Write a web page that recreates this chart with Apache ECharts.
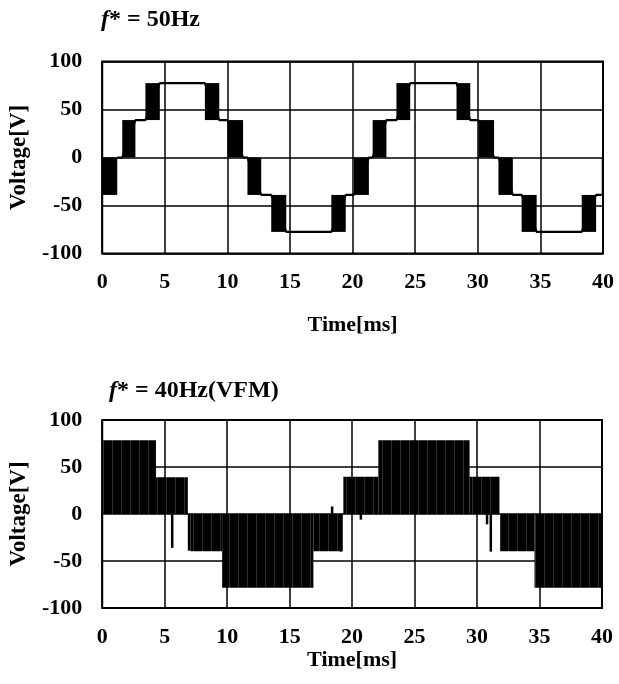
<!DOCTYPE html>
<html>
<head>
<meta charset="utf-8">
<script src="https://cdn.jsdelivr.net/npm/echarts@6/dist/echarts.min.js"></script>
<style>
  html, body { margin: 0; padding: 0; background: #fff; }
  #chart { width: 619px; height: 684px; }
</style>
</head>
<body>
<div id="chart"></div>
<script>
// f* = 50Hz : PWM blocks [tStart, tEnd, low, high] and flat levels [tStart, tEnd, value]
const top50Blocks = [
  [0, 1.2, -39, 0], [1.6, 2.65, 0, 39], [3.45, 4.6, 39, 77.5], [8.2, 9.35, 39, 77.5],
  [10.0, 11.25, 0, 39], [11.6, 12.7, -39, 0], [13.5, 14.7, -77.5, -39], [18.3, 19.45, -77.5, -39],
  [20.1, 21.3, -39, 0], [21.6, 22.7, 0, 39], [23.5, 24.6, 39, 77.5], [28.3, 29.4, 39, 77.5],
  [30.05, 31.3, 0, 39], [31.65, 32.8, -39, 0], [33.5, 34.7, -77.5, -39], [38.3, 39.45, -77.5, -39],
  [39.9, 40, -39, 0]
]
const top50Levels = [
  [1.2, 1.6, 0], [2.65, 3.45, 39], [4.6, 8.2, 77.5], [9.35, 10.0, 39], [11.25, 11.6, 0],
  [12.7, 13.5, -39], [14.7, 18.3, -77.5], [19.45, 20.1, -39], [21.3, 21.6, 0], [22.7, 23.5, 39],
  [24.6, 28.3, 77.5], [29.4, 30.05, 39], [31.3, 31.65, 0], [32.8, 33.5, -39], [34.7, 38.3, -77.5],
  [39.45, 39.9, -39]
]
// f* = 40Hz(VFM) : switching blocks and isolated pulses [t, value]
const bot40Blocks = [
  [0, 4.3, 0, 78.5], [4.3, 6.85, 0, 39], [7.05, 9.6, -39.5, 0], [9.6, 16.9, -78.5, 0],
  [16.9, 19.25, -39.5, 0], [19.3, 22.1, 0, 39.5], [22.1, 29.4, 0, 78.5], [29.4, 31.8, 0, 39.5],
  [31.85, 34.6, -39.5, 0], [34.6, 40, -78.5, 0]
]
const bot40Spikes = [
  [5.6, -36], [6.95, -39], [18.4, 8], [19.1, -40], [20.7, -6], [30.8, -11], [31.1, -40]
]
const yTicks = { min: -100, max: 100, step: 50 }
const xTicks = { min: 0, max: 40, step: 5 }

const FONT = '"Liberation Serif", "Times New Roman", serif'
const chart = echarts.init(document.getElementById('chart'))

// faint vertical streaks, like the switching pulses of the VFM trace
const streak = document.createElement('canvas')
streak.width = 9
streak.height = 4
const sctx = streak.getContext('2d')
sctx.fillStyle = '#000'
sctx.fillRect(0, 0, 9, 4)
sctx.fillStyle = '#2e2e2e'
sctx.fillRect(4, 0, 1, 4)

function blockItem(fill) {
  return function(params, api) {
    const p0 = api.coord([api.value(0), api.value(3)])
    const p1 = api.coord([api.value(1), api.value(2)])
    return {
      type: 'rect',
      shape: { x: p0[0], y: p0[1], width: p1[0] - p0[0], height: p1[1] - p0[1] },
      style: { fill }
    }
  }
}
function spikeItem(params, api) {
  const a = api.coord([api.value(0), 0])
  const b = api.coord([api.value(0), api.value(1)])
  return {
    type: 'line',
    shape: { x1: a[0], y1: a[1], x2: b[0], y2: b[1] },
    style: { stroke: '#000', lineWidth: 2.5 }
  }
}

function xAxis(gridIndex, nameGap) {
  return {
    type: 'value', gridIndex, min: xTicks.min, max: xTicks.max, interval: xTicks.step,
    name: 'Time[ms]', nameLocation: 'middle', nameGap,
    nameTextStyle: { fontFamily: FONT, fontWeight: 'bold', fontSize: 22, color: '#000' },
    axisLine: { show: false }, axisTick: { show: false },
    axisLabel: { fontFamily: FONT, fontWeight: 'bold', fontSize: 22, color: '#000', margin: 18 },
    splitLine: { show: true, lineStyle: { color: '#000', width: 1.5 } }
  }
}
function yAxis(gridIndex) {
  return {
    type: 'value', gridIndex, min: yTicks.min, max: yTicks.max, interval: yTicks.step,
    name: 'Voltage[V]', nameLocation: 'middle', nameGap: 70,
    nameTextStyle: { fontFamily: FONT, fontWeight: 'bold', fontSize: 23, color: '#000' },
    axisLine: { show: false }, axisTick: { show: false },
    axisLabel: { fontFamily: FONT, fontWeight: 'bold', fontSize: 22, color: '#000', margin: 20 },
    splitLine: { show: true, lineStyle: { color: '#000', width: 1.5 } }
  }
}
const titleRich = {
  i: { fontFamily: FONT, fontStyle: 'italic', fontWeight: 'bold', fontSize: 24, color: '#000' },
  b: { fontFamily: FONT, fontWeight: 'bold', fontSize: 24, color: '#000' }
}

chart.setOption({
  animation: false,
  title: [
    { text: '{i|f}{b|* = 50Hz}', left: 96, top: 3, textStyle: { rich: titleRich } },
    { text: '{i|f}{b|* = 40Hz(VFM)}', left: 104, top: 374, textStyle: { rich: titleRich } }
  ],
  grid: [
    { left: 101, right: 16, top: 61.5, height: 192, show: true, borderColor: '#000', borderWidth: 2 },
    { left: 101, right: 17, top: 420, height: 188, show: true, borderColor: '#000', borderWidth: 2 }
  ],
  xAxis: [xAxis(0, 61), xAxis(1, 33)],
  yAxis: [yAxis(0), yAxis(1)],
  series: [
    {
      type: 'custom', xAxisIndex: 0, yAxisIndex: 0, renderItem: blockItem('#000'),
      encode: { x: [0, 1], y: [2, 3] }, data: top50Blocks, z: 3
    },
    {
      type: 'line', xAxisIndex: 0, yAxisIndex: 0, showSymbol: false, z: 3,
      lineStyle: { color: '#000', width: 2.2 },
      data: top50Levels.flatMap(d => [[d[0], d[2]], [d[1], d[2]]])
    },
    {
      type: 'custom', xAxisIndex: 1, yAxisIndex: 1,
      renderItem: blockItem({ image: streak, repeat: 'repeat' }),
      encode: { x: [0, 1], y: [2, 3] }, data: bot40Blocks, z: 3
    },
    {
      type: 'custom', xAxisIndex: 1, yAxisIndex: 1, renderItem: spikeItem,
      encode: { x: 0, y: 1 }, data: bot40Spikes, z: 3
    }
  ]
})
</script>
</body>
</html>
